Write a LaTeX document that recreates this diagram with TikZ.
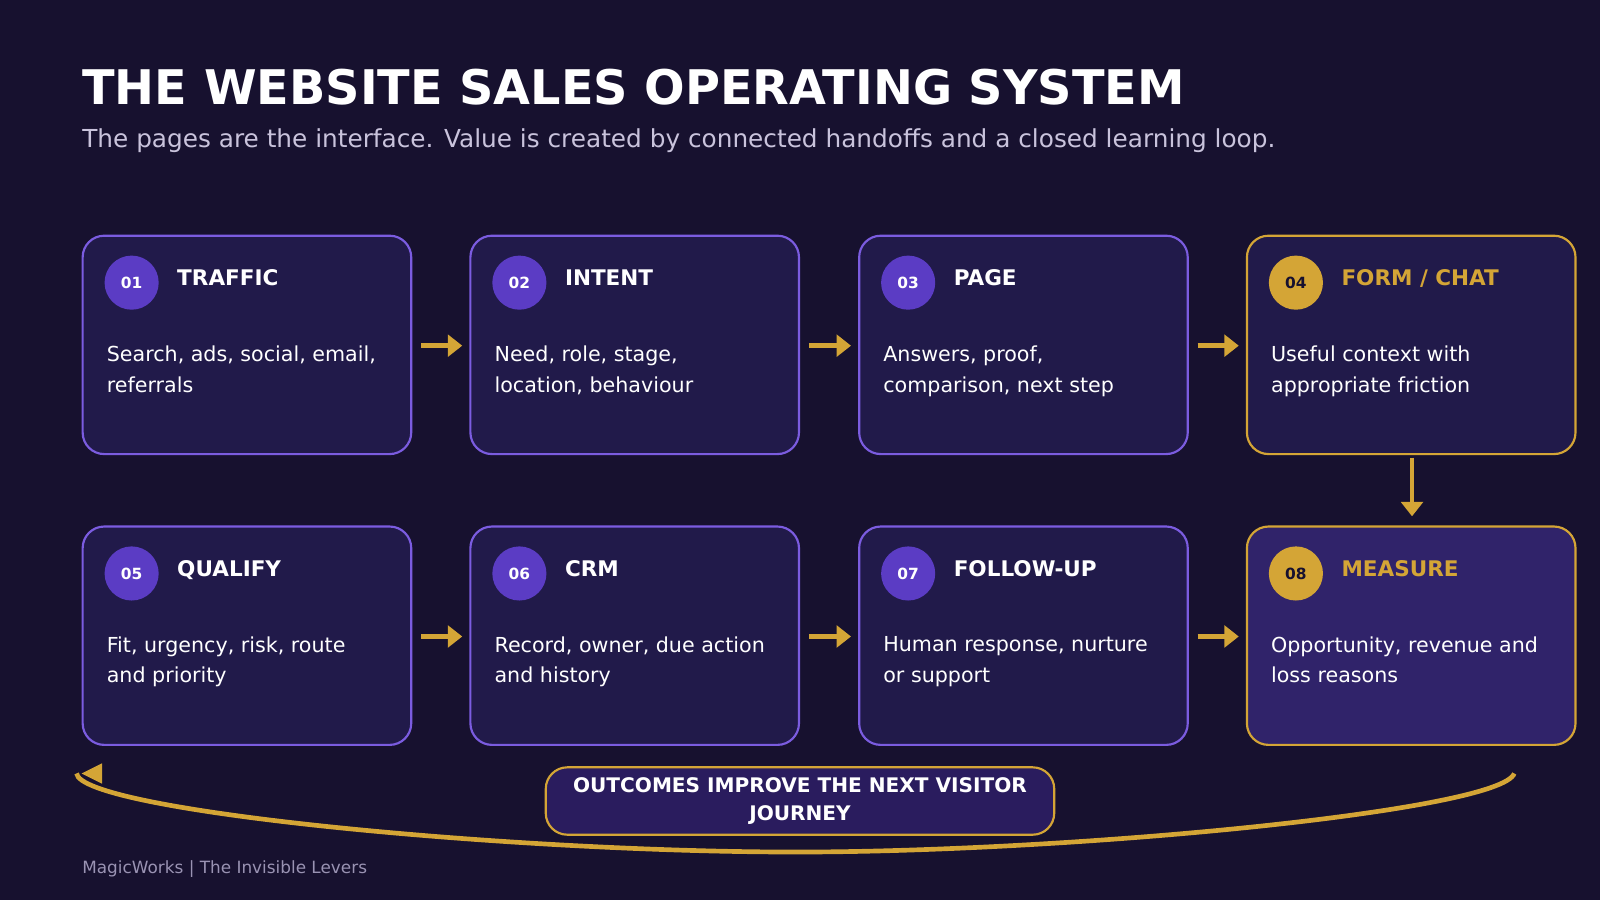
\documentclass[tikz,border=0pt]{standalone}
\usepackage{fontspec}
\setmainfont{DejaVu Sans}
\usetikzlibrary{arrows.meta}
\definecolor{bgc}{HTML}{17112F}
\definecolor{cardc}{HTML}{211A4A}
\definecolor{cardhi}{HTML}{30236A}
\definecolor{edgec}{HTML}{7B5CE0}
\definecolor{goldc}{HTML}{D4A536}
\definecolor{dotc}{HTML}{5B3CC4}
\definecolor{subc}{HTML}{C9C3DC}
\definecolor{footc}{HTML}{9A93B3}
\definecolor{tagc}{HTML}{2A1C5E}
\tikzset{
  card/.style={draw=edgec,line width=0.6pt,fill=cardc,rounded corners=6pt},
  badge/.style={circle,fill=dotc,minimum size=0.53cm,inner sep=0pt,text=white,font=\fontsize{4.3}{5}\selectfont\bfseries},
  head/.style={anchor=base west,text=white,font=\fontsize{6}{7}\selectfont\bfseries,inner sep=0pt},
  body/.style={anchor=north west,text=white,align=left,font=\fontsize{5.75}{8.6}\selectfont,inner sep=0pt},
  flow/.style={goldc,line width=1.3pt,-{Triangle[length=4pt,width=6pt]}}
}
\begin{document}
\begin{tikzpicture}[x=0.01cm,y=-0.01cm]
\fill[bgc] (0,0) rectangle (1568,882);
\node[anchor=base west,inner sep=0pt,text=white,font=\fontsize{13.3}{15}\selectfont\bfseries] (title) at (80,102) {THE WEBSITE SALES OPERATING SYSTEM};
\node[anchor=base west,inner sep=0pt,text=subc,font=\fontsize{6.9}{8}\selectfont] (sub) at (80,145) {The pages are the interface. Value is created by connected handoffs and a closed learning loop.};

% cards: index/x/y/number/title/text
\foreach \i/\x/\y/\n/\t/\b in {
  1/81/231/01/TRAFFIC/{Search, ads, social, email,\\referrals},
  2/461/231/02/INTENT/{Need, role, stage,\\location, behaviour},
  3/842/231/03/PAGE/{Answers, proof,\\comparison, next step},
  5/81/516/05/QUALIFY/{Fit, urgency, risk, route\\and priority},
  6/461/516/06/CRM/{Record, owner, due action\\and history},
  7/842/516/07/FOLLOW-UP/{Human response, nurture\\or support}}{
  \draw[card] (\x,\y) rectangle ++(322,214);
  \node[minimum width=3.22cm,minimum height=2.14cm,inner sep=0pt,anchor=north west] (b\i) at (\x,\y) {};
  \node[badge] (n\i) at (\x+48,\y+46) {\n};
  \node[head] (t\i) at (\x+92,\y+49) {\t};
  \node[body] (d\i) at (\x+23,\y+107) {\b};
}
\draw[card,draw=goldc] (1222,231) rectangle ++(322,214);
\node[minimum width=3.22cm,minimum height=2.14cm,inner sep=0pt,anchor=north west] (b4) at (1222,231) {};
\node[badge,fill=goldc,text=bgc] (n4) at (1270,277) {04};
\node[head,text=goldc] (t4) at (1314,280) {FORM / CHAT};
\node[body] (d4) at (1245,338) {Useful context with\\appropriate friction};
\draw[card,draw=goldc,fill=cardhi] (1222,516) rectangle ++(322,214);
\node[minimum width=3.22cm,minimum height=2.14cm,inner sep=0pt,anchor=north west] (b8) at (1222,516) {};
\node[badge,fill=goldc,text=bgc] (n8) at (1270,562) {08};
\node[head,text=goldc] (t8) at (1314,565) {MEASURE};
\node[body] (d8) at (1245,623) {Opportunity, revenue and\\loss reasons};

% handoffs
\foreach \a/\c in {1/2,2/3,3/4,5/6,6/7,7/8}
  \draw[flow] ([xshift=0.08cm]b\a.east) -- ([xshift=-0.08cm]b\c.west);
\draw[flow] ([yshift=-0.02cm]b4.south) -- ([yshift=0.1cm]b8.north);

% learning loop
\coordinate (loopR) at (1484,758);
\coordinate (loopL) at (75,758);
\coordinate (tip) at (80,758);
\draw[goldc,line width=1.3pt] (loopR) .. controls (1470,795) and (1050,835) .. (780,835) .. controls (500,835) and (80,795) .. (loopL);
\fill[goldc] (tip) -- ++(20,-10) -- ++(0,20) -- cycle;
\node[draw=goldc,fill=tagc,rounded corners=6pt,line width=0.6pt,minimum width=4.98cm,minimum height=0.66cm,inner sep=0pt,align=center,text=white,font=\fontsize{5.6}{7.8}\selectfont\bfseries] (loop) at (784,785) {OUTCOMES IMPROVE THE NEXT VISITOR\\JOURNEY};

\node[anchor=base west,inner sep=0pt,text=footc,font=\fontsize{4.7}{6}\selectfont] (foot) at (80,856) {MagicWorks | The Invisible Levers};
\end{tikzpicture}
\end{document}
